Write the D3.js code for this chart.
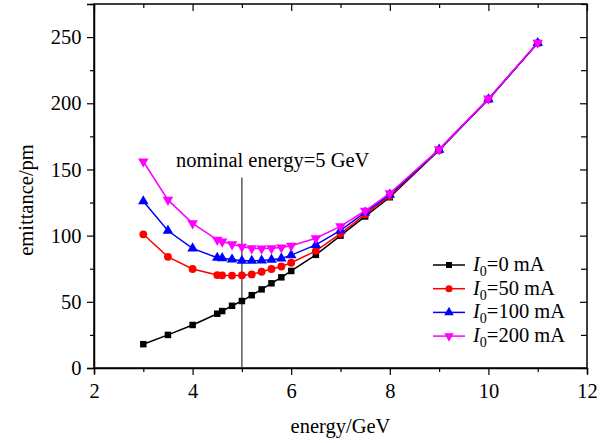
<!DOCTYPE html>
<html><head><meta charset="utf-8">
<script src="https://cdn.jsdelivr.net/npm/d3@7"></script>
<style>body{margin:0;background:#fff}svg{display:block}text{font-family:"Liberation Serif","Times New Roman",serif}</style>
</head><body><svg id="c" width="608" height="443"></svg>
<script>
const energy = [3, 3.5, 4, 4.5, 4.6, 4.8, 5.0, 5.2, 5.4, 5.6, 5.8, 6.0, 6.5, 7, 7.5, 8, 9, 10, 11];
const em0   = [18, 25, 32.5, 41, 43, 47, 50.6, 55, 59.4, 64, 68.5, 73.3, 85.5, 100, 114.5, 129, 164.5, 203, 245.5];
const em50  = [101, 84, 74.8, 70.2, 70, 69.8, 70, 70.7, 72.7, 74.8, 76.7, 79.5, 88.5, 101.5, 116, 130, 165, 203, 245.5];
const em100 = [126, 103.7, 90.4, 83.3, 83, 82, 81, 81, 81.2, 81.8, 82.8, 85.3, 93, 104, 117.5, 131, 165, 203, 245.5];
const em200 = [156, 127, 109.3, 96.8, 95.5, 93.4, 91.6, 90.4, 90.2, 90.4, 91.1, 92.4, 98, 107, 118.8, 132, 165.2, 203.5, 245.7];
const seriesNames = ["0 mA", "50 mA", "100 mA", "200 mA"];
const seriesColors = ["#000000", "#ff0000", "#0000ff", "#ff00ff"];
const seriesSymbols = [d3.symbolSquare, d3.symbolCircle, d3.symbolTriangle, d3.symbolTriangle];
const xTicks = [2, 4, 6, 8, 10, 12];
const yTicks = [0, 50, 100, 150, 200, 250];
const nominalE = 5, nominalTop = 144;
const annotation = "nominal energy=5 GeV";

const svg = d3.select("#c");
const m = {l: 94, r: 21, t: 4, b: 75};
const W = 608, H = 443;
const x = d3.scaleLinear().domain([2, 12]).range([m.l, W - m.r]);
const y = d3.scaleLinear().domain([0, 275]).range([H - m.b, m.t]);
const fs = 20.5;
const FF = "Liberation Serif, Times New Roman, serif";

// axes
const xb = svg.append("g").attr("transform", `translate(0,${H - m.b})`)
  .call(d3.axisBottom(x).tickValues(d3.range(2, 12.01, 1)).tickSize(6).tickFormat(d => xTicks.includes(d) ? d : ""));
xb.selectAll(".tick line").attr("y2", d => xTicks.includes(d) ? 7 : 4);
const yl = svg.append("g").attr("transform", `translate(${m.l},0)`)
  .call(d3.axisLeft(y).tickValues(d3.range(0, 275.1, 25)).tickSize(7).tickFormat(d => yTicks.includes(d) ? d : ""));
yl.selectAll(".tick line").attr("x2", d => yTicks.includes(d) ? -7 : -4);
const xt = svg.append("g").attr("transform", `translate(0,${m.t})`)
  .call(d3.axisTop(x).tickValues(d3.range(2, 12.01, 1)).tickFormat(""));
xt.selectAll(".tick line").attr("y2", d => xTicks.includes(d) ? 7 : 4);
const yr = svg.append("g").attr("transform", `translate(${W - m.r},0)`)
  .call(d3.axisRight(y).tickValues(d3.range(0, 275.1, 25)).tickFormat(""));
yr.selectAll(".tick line").attr("x2", d => yTicks.includes(d) ? -7 : -6);
[xb, yl, xt, yr].forEach(g => {
  g.attr("font-family", FF).attr("font-size", fs);
  g.select(".domain").attr("stroke", "#000").attr("stroke-width", 1.5);
  g.selectAll(".tick line").attr("stroke", "#000").attr("stroke-width", 1.2);
  g.selectAll(".tick text").attr("fill", "#000");
});
xb.selectAll(".tick text").attr("dy", "1.0em");
yl.selectAll(".tick text").attr("dx", "-0.12em");
[xt, yr].forEach(g => g.select(".domain").attr("d", null));
svg.append("rect").attr("x", m.l).attr("y", m.t).attr("width", W - m.r - m.l).attr("height", H - m.b - m.t)
  .attr("fill", "none").attr("stroke", "#000").attr("stroke-width", 1.5);

// axis labels
svg.append("text").attr("x", (m.l + W - m.r) / 2).attr("y", 433).attr("text-anchor", "middle").attr("font-size", fs).text("energy/GeV");
svg.append("text").attr("transform", `translate(33,200) rotate(-90)`).attr("text-anchor", "middle").attr("font-size", fs).text("emittance/pm");

// nominal line
svg.append("line").attr("x1", x(nominalE)).attr("x2", x(nominalE)).attr("y1", y(0)).attr("y2", y(nominalTop))
  .attr("stroke", "#333").attr("stroke-width", 1.2);
svg.append("text").attr("x", 176).attr("y", 167).attr("font-size", fs).text(annotation);

// series
const allSeries = [em0, em50, em100, em200];
const line = d3.line().x((d, i) => x(energy[i])).y(d => y(d));
allSeries.forEach((vals, k) => {
  const g = svg.append("g");
  g.append("path").datum(vals).attr("d", line).attr("fill", "none").attr("stroke", seriesColors[k]).attr("stroke-width", 1.5);
  g.selectAll("path.pt").data(vals).join("path").attr("class", "pt")
    .attr("d", d3.symbol().type(seriesSymbols[k]).size(k === 0 ? 42 : 48))
    .attr("transform", (d, i) => `translate(${x(energy[i])},${y(d)})${k === 3 ? " rotate(180)" : ""}`)
    .attr("fill", seriesColors[k]);
});

// legend
const lg = svg.append("g");
seriesNames.forEach((name, k) => {
  const yy = 265 + k * 23.7;
  lg.append("line").attr("x1", 433).attr("x2", 465).attr("y1", yy).attr("y2", yy).attr("stroke", seriesColors[k]).attr("stroke-width", 1.5);
  lg.append("path").attr("d", d3.symbol().type(seriesSymbols[k]).size(k === 0 ? 36 : 40)())
    .attr("transform", `translate(449,${yy})${k === 3 ? " rotate(180)" : ""}`).attr("fill", seriesColors[k]);
  const t = lg.append("text").attr("x", 473).attr("y", yy + 6).attr("font-size", fs);
  t.append("tspan").attr("font-style", "italic").text("I");
  t.append("tspan").attr("font-size", 14).attr("dy", 5).text("0");
  t.append("tspan").attr("dy", -5).text("=" + name);
});
</script></body></html>
